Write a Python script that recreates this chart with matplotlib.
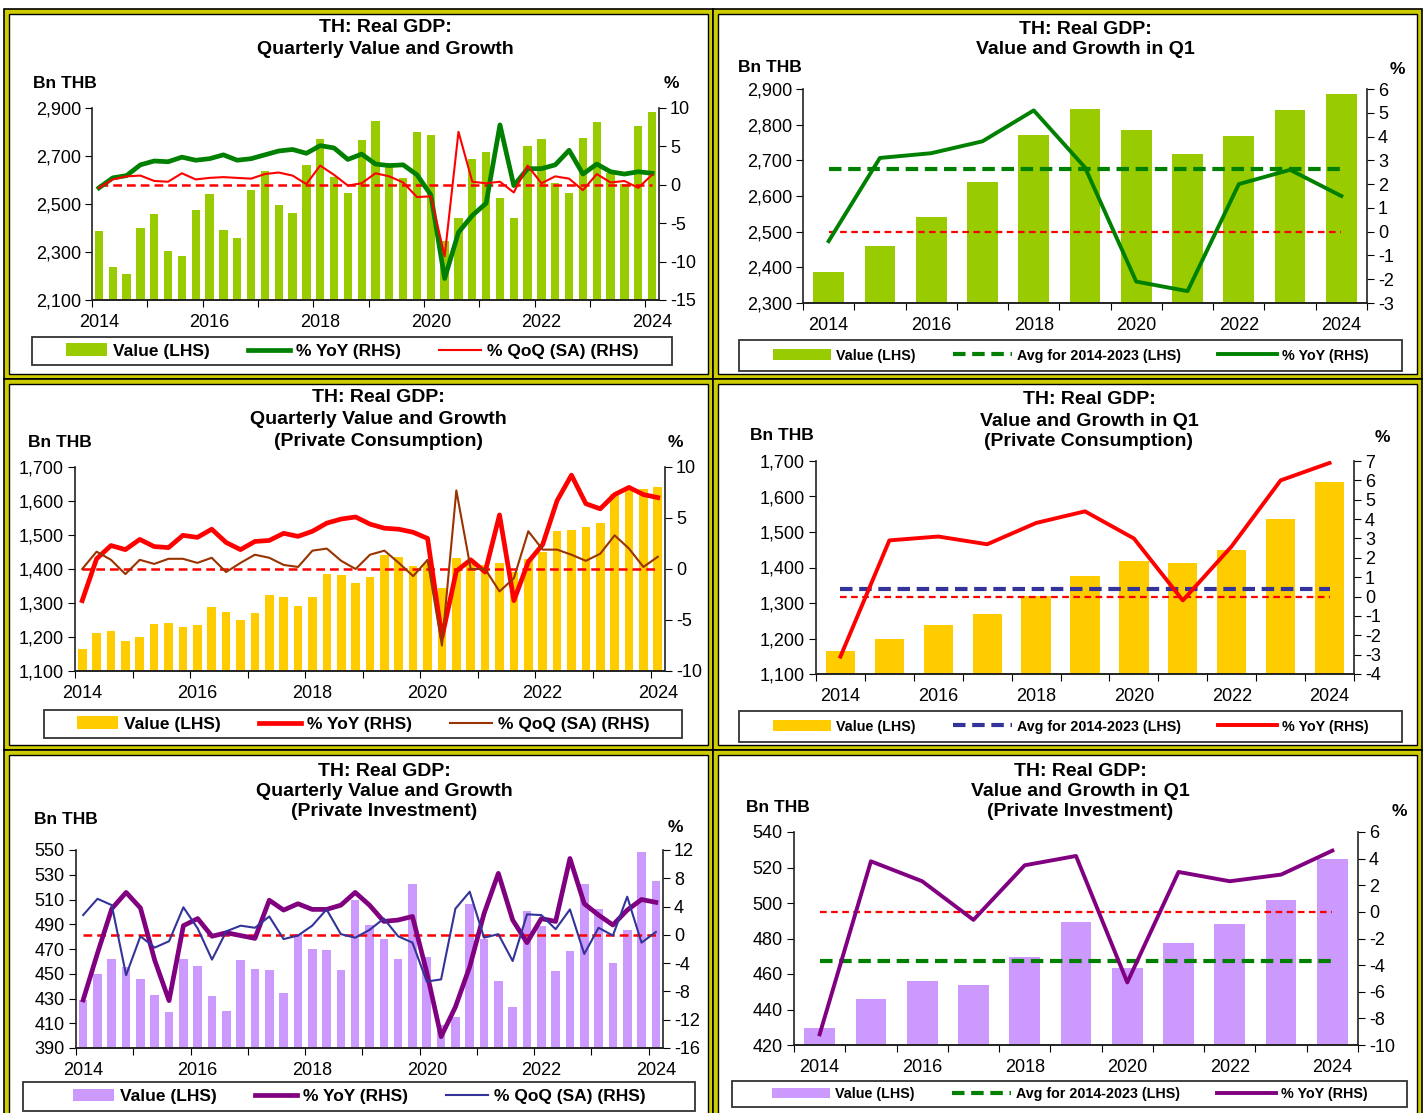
import numpy as np
import matplotlib
matplotlib.use("Agg")
import matplotlib.pyplot as plt
from matplotlib.patches import Rectangle, Patch
from matplotlib.lines import Line2D
from matplotlib.ticker import FuncFormatter

plt.rcParams['font.family'] = ['Liberation Sans', 'DejaVu Sans']

W, H = 1425, 1113
YELLOW = "#CCCC00"

# ---------------- data ----------------
quarter_labels = ["2014", "2016", "2018", "2020", "2022", "2024"]
q1_labels = ["2014", "2016", "2018", "2020", "2022", "2024"]

# Real GDP, quarterly (Bn THB), 2014Q1 .. 2024Q1
gdp_value = [2386, 2237, 2208, 2399, 2460, 2303, 2283, 2474,
             2541, 2392, 2357, 2558, 2639, 2494, 2464, 2664,
             2772, 2611, 2544, 2768, 2845, 2669, 2607, 2800,
             2786, 2344, 2442, 2688, 2717, 2525, 2440, 2742,
             2769, 2587, 2547, 2775, 2842, 2630, 2582, 2824,
             2885]
gdp_yoy = [-0.4, 0.9, 1.2, 2.6, 3.1, 3.0, 3.6, 3.2,
           3.4, 3.9, 3.2, 3.4, 3.9, 4.4, 4.6, 4.1,
           5.1, 4.8, 3.3, 4.0, 2.7, 2.5, 2.6, 1.3,
           -1.3, -12.2, -6.2, -4.0, -2.4, 7.8, -0.1, 2.1,
           2.1, 2.6, 4.5, 1.4, 2.7, 1.7, 1.4, 1.7,
           1.5]
gdp_qoq = [-0.4, 0.7, 1.1, 1.2, 0.5, 0.4, 1.5, 0.7,
           0.9, 1.0, 0.9, 0.8, 1.4, 1.6, 1.2, 0.1,
           2.5, 1.3, -0.1, 0.2, 1.5, 1.1, 0.3, -1.6,
           -1.5, -9.3, 6.9, 0.4, 0.2, 0.4, -1.0, 2.5,
           0.2, 1.1, 0.8, -0.7, 1.4, 0.3, 0.5, -0.4,
           1.3]

# Real GDP, Q1 of each year
gdp_q1_value = [2386, 2460, 2541, 2639, 2772, 2845, 2786, 2717, 2769, 2842, 2885]
gdp_q1_yoy = [-0.4, 3.1, 3.3, 3.8, 5.1, 2.7, -2.1, -2.5, 2.0, 2.6, 1.5]

# Private consumption, quarterly
pc_value = [1165, 1212, 1217, 1189, 1199, 1239, 1242, 1229,
            1236, 1289, 1274, 1251, 1270, 1325, 1318, 1292,
            1318, 1385, 1382, 1359, 1376, 1440, 1436, 1409,
            1417, 1344, 1432, 1414, 1412, 1417, 1390, 1429,
            1449, 1511, 1515, 1523, 1536, 1621, 1636, 1635,
            1642]
pc_yoy = [-3.1, 1.0, 2.3, 1.9, 2.9, 2.2, 2.1, 3.3,
          3.1, 3.9, 2.6, 1.9, 2.7, 2.8, 3.5, 3.2,
          3.7, 4.5, 4.9, 5.1, 4.4, 4.0, 3.9, 3.6,
          3.0, -6.7, -0.2, 0.9, -0.3, 5.3, -3.1, 0.7,
          2.4, 6.7, 9.2, 6.4, 5.9, 7.3, 8.0, 7.3,
          7.0]
pc_qoq = [0.0, 1.7, 0.9, -0.5, 0.9, 0.5, 1.0, 1.0,
          0.6, 1.1, -0.3, 0.6, 1.4, 1.1, 0.4, 0.2,
          1.8, 2.0, 0.8, 0.0, 1.4, 1.8, 0.6, -0.7,
          0.9, -7.5, 7.7, 0.0, 0.0, -2.2, -0.9, 3.7,
          1.9, 1.9, 1.4, 0.8, 1.5, 3.3, 2.0, 0.2,
          1.2]
pc_q1_value = [1166, 1200, 1237, 1270, 1319, 1376, 1417, 1414, 1450, 1536, 1642]
pc_q1_yoy = [-3.1, 2.9, 3.1, 2.7, 3.8, 4.4, 3.0, -0.2, 2.6, 6.0, 6.9]

# Private investment, quarterly
pi_value = [429.1, 450.2, 461.8, 455.3, 445.8, 432.6, 418.9, 461.8,
            456.1, 432.4, 419.7, 461.0, 453.7, 453.4, 434.2, 482.0,
            469.6, 469.0, 452.9, 509.5, 489.0, 477.7, 462.0, 522.7,
            463.4, 408.3, 414.8, 506.3, 477.7, 444.0, 423.2, 500.6,
            488.5, 452.1, 468.2, 522.5, 502.2, 458.3, 485.2, 548.4,
            524.9]
pi_yoy = [-9.2, -2.6, 3.7, 6.0, 3.8, -3.6, -9.3, 1.3,
          2.3, -0.2, 0.3, -0.1, -0.5, 4.9, 3.5, 4.4,
          3.6, 3.6, 4.2, 6.0, 4.2, 1.9, 2.1, 2.6,
          -5.3, -14.4, -10.2, -4.5, 3.0, 8.7, 2.1, -1.1,
          2.3, 1.9, 10.8, 4.4, 2.8, 1.4, 3.5, 5.0,
          4.6]
pi_qoq = [2.8, 5.1, 4.2, -5.7, -0.2, -1.8, -0.9, 3.9,
          0.9, -3.5, 0.5, 1.3, 1.0, 2.6, -0.6, -0.1,
          1.3, 3.6, 0.1, -0.4, 0.7, 2.3, -0.2, -1.1,
          -6.6, -6.3, 3.7, 6.1, -0.4, 0.1, -3.7, 2.9,
          2.8, 0.8, 3.6, -2.7, 1.0, -0.1, 5.4, -1.1,
          0.4]
pi_q1_value = [429.4, 446.0, 456.0, 453.7, 469.5, 489.2, 463.5, 477.6, 488.3, 501.6, 525.0]
pi_q1_yoy = [-9.2, 3.8, 2.3, -0.6, 3.5, 4.2, -5.3, 3.0, 2.3, 2.8, 4.6]

# ---------------- helpers ----------------
FS_TICK = 13
FS_TITLE = 14


def rect_px(x0, y0, x1, y1):
    return [x0 / W, 1 - y1 / H, (x1 - x0) / W, (y1 - y0) / H]


def box(x0, y0, x1, y1, fc, ec, lw):
    fig.add_artist(Rectangle((x0 / W, 1 - y1 / H), (x1 - x0) / W, (y1 - y0) / H,
                             transform=fig.transFigure, facecolor=fc,
                             edgecolor=ec, lw=lw, zorder=0))


def frame(x0, y0, x1, y1):
    box(x0, y0, x1, y1, YELLOW, "black", 1.2)
    d = 5
    box(x0 + d, y0 + d, x1 - d, y1 - d, "white", "black", 1.0)


def ftext(x, y, s, **kw):
    fig.text(x / W, 1 - y / H, s, va="center", fontweight="bold", **kw)


def style(ax, ax2):
    for a in (ax, ax2):
        a.spines["top"].set_visible(False)
        a.patch.set_visible(False)
    ax.spines["right"].set_visible(False)
    ax2.spines["left"].set_visible(False)
    for a in (ax, ax2):
        for s in ("left", "right", "bottom"):
            a.spines[s].set_color("#222222")
            a.spines[s].set_linewidth(1.2)
    ax.tick_params(axis="y", direction="out", length=5, labelsize=FS_TICK, pad=3)
    ax2.tick_params(axis="y", direction="out", length=5, labelsize=FS_TICK, pad=3)
    ax.tick_params(axis="x", which="major", direction="out", length=5, labelbottom=False)
    ax.tick_params(axis="x", which="minor", length=0, labelsize=FS_TICK, pad=10)
    ax.yaxis.set_major_formatter(FuncFormatter(lambda v, p: f"{v:,.0f}"))
    ax2.yaxis.set_major_formatter(FuncFormatter(lambda v, p: f"{v:.0f}"))


def legend(ax, handles, labels, lbox, fs, hlen, cspace):
    x0, y0, x1, y1 = lbox
    box(x0, y0, x1, y1, "white", "#333333", 1.3)
    ax.legend(handles, labels, loc="center",
              bbox_to_anchor=((x0 + x1) / 2 / W, 1 - (y0 + y1) / 2 / H),
              bbox_transform=fig.transFigure, ncol=3, frameon=False,
              borderaxespad=0, prop={"weight": "bold", "size": fs},
              handlelength=hlen, handletextpad=0.35, columnspacing=cspace)


def quarterly(plot, title, title_y, title_x, bn_xy, pct_xy, values, yoy, qoq,
              bar_c, yoy_c, qoq_c, lim, lticks, rlim, rticks, leg_box):
    ax = fig.add_axes(rect_px(*plot))
    ax2 = ax.twinx()
    n = len(values)
    x = np.arange(n)
    ax.bar(x, values, width=0.6, color=bar_c, edgecolor="none")
    ax.set_ylim(*lim)
    ax.set_yticks(lticks)
    ax.set_xlim(-0.5, n - 0.5)
    ax.set_xticks(np.arange(-0.5, n - 1, 4))
    ax.set_xticks(np.arange(0, n, 8), minor=True)
    ax.set_xticklabels(quarter_labels, minor=True)
    ax2.plot(x, np.zeros(n), color="#FF0000", lw=1.8, dashes=(3.5, 2))
    ax2.plot(x, yoy, color=yoy_c, lw=3.4, solid_joinstyle="round")
    ax2.plot(x, qoq, color=qoq_c, lw=1.5)
    ax2.set_ylim(*rlim)
    ax2.set_yticks(rticks)
    style(ax, ax2)
    for i, line in enumerate(title):
        ftext(title_x, title_y[i], line, ha="center", fontsize=FS_TITLE)
    ftext(bn_xy[0], bn_xy[1], "Bn THB", ha="left", fontsize=12.5)
    ftext(pct_xy[0], pct_xy[1], "%", ha="left", fontsize=12.5)
    handles = [Patch(facecolor=bar_c, edgecolor="none"),
               Line2D([], [], color=yoy_c, lw=3.4),
               Line2D([], [], color=qoq_c, lw=1.5)]
    legend(ax2, handles, ["Value (LHS)", "% YoY (RHS)", "% QoQ (SA) (RHS)"],
           leg_box, 12.5, 2.4, 2.2)


def q1chart(plot, title, title_y, title_x, bn_xy, pct_xy, values, yoy,
            bar_c, avg_c, yoy_c, lim, lticks, rlim, rticks, leg_box):
    ax = fig.add_axes(rect_px(*plot))
    ax2 = ax.twinx()
    n = len(values)
    x = np.arange(n)
    ax.bar(x, values, width=0.6, color=bar_c, edgecolor="none")
    avg = np.full(n, np.mean(values[:10]))
    ax.plot(x, avg, color=avg_c, lw=3.0, dashes=(3, 1.6))
    ax.set_ylim(*lim)
    ax.set_yticks(lticks)
    ax.set_xlim(-0.5, n - 0.5)
    ax.set_xticks(np.arange(-0.5, n, 1))
    ax.set_xticks(np.arange(0, n, 2), minor=True)
    ax.set_xticklabels(q1_labels, minor=True)
    ax2.plot(x, np.zeros(n), color="#FF0000", lw=1.6, dashes=(3, 2))
    ax2.plot(x, yoy, color=yoy_c, lw=2.8)
    ax2.set_ylim(*rlim)
    ax2.set_yticks(rticks)
    style(ax, ax2)
    for i, line in enumerate(title):
        ftext(title_x, title_y[i], line, ha="center", fontsize=FS_TITLE)
    ftext(bn_xy[0], bn_xy[1], "Bn THB", ha="left", fontsize=12.5)
    ftext(pct_xy[0], pct_xy[1], "%", ha="left", fontsize=12.5)
    handles = [Patch(facecolor=bar_c, edgecolor="none"),
               Line2D([], [], color=avg_c, lw=3.0, dashes=(3, 1.6)),
               Line2D([], [], color=yoy_c, lw=2.8)]
    legend(ax2, handles, ["Value (LHS)", "Avg for 2014-2023 (LHS)", "% YoY (RHS)"],
           leg_box, 10.3, 4.1, 2.6)


# ---------------- figure ----------------
fig = plt.figure(figsize=(W / 100, H / 100), dpi=100)
fig.patch.set_facecolor("white")

frame(4, 9, 713, 379)
frame(713, 9, 1422, 379)
frame(4, 379, 713, 750)
frame(713, 379, 1422, 750)
frame(4, 750, 713, 1120)
frame(713, 750, 1422, 1120)

GREEN_BAR = "#99CC00"
GOLD_BAR = "#FFCC00"
LILAC_BAR = "#CC99FF"

quarterly((92, 108, 659, 300),
          ["TH: Real GDP:", "Quarterly Value and Growth"], [28, 49], 385,
          (33, 83), (664, 84), gdp_value, gdp_yoy, gdp_qoq,
          GREEN_BAR, "#008000", "#FF0000",
          (2100, 2900), np.arange(2100, 2901, 200), (-15, 10), np.arange(-15, 11, 5),
          (32, 337, 672, 365))

q1chart((803, 89, 1367, 303),
        ["TH: Real GDP:", "Value and Growth in Q1"], [29, 50], 1085,
        (738, 67), (1390, 69), gdp_q1_value, gdp_q1_yoy,
        GREEN_BAR, "#008000", "#008000",
        (2300, 2900), np.arange(2300, 2901, 100), (-3, 6), np.arange(-3, 7, 1),
        (739, 340, 1402, 371))

quarterly((75, 467, 665, 671),
          ["TH: Real GDP:", "Quarterly Value and Growth", "(Private Consumption)"],
          [398, 420, 441], 378,
          (28, 443), (668, 443), pc_value, pc_yoy, pc_qoq,
          GOLD_BAR, "#FF0000", "#993300",
          (1100, 1700), np.arange(1100, 1701, 100), (-10, 10), np.arange(-10, 11, 5),
          (44, 710, 682, 738))

q1chart((816, 461, 1354, 674),
        ["TH: Real GDP:", "Value and Growth in Q1", "(Private Consumption)"],
        [400, 421, 442], 1089,
        (750, 436), (1375, 437), pc_q1_value, pc_q1_yoy,
        GOLD_BAR, "#333399", "#FF0000",
        (1100, 1700), np.arange(1100, 1701, 100), (-4, 7), np.arange(-4, 8, 1),
        (739, 711, 1402, 742))

quarterly((76, 850, 663, 1048),
          ["TH: Real GDP:", "Quarterly Value and Growth", "(Private Investment)"],
          [771, 791, 811], 384,
          (34, 819), (668, 827), pi_value, pi_yoy, pi_qoq,
          LILAC_BAR, "#800080", "#333399",
          (390, 550), np.arange(390, 551, 20), (-16, 12), np.arange(-16, 13, 4),
          (23, 1082, 695, 1111))

q1chart((794, 832, 1358, 1045),
        ["TH: Real GDP:", "Value and Growth in Q1", "(Private Investment)"],
        [771, 791, 811], 1080,
        (746, 808), (1392, 811), pi_q1_value, pi_q1_yoy,
        LILAC_BAR, "#008000", "#800080",
        (420, 540), np.arange(420, 541, 20), (-10, 6), np.arange(-10, 7, 2),
        (732, 1081, 1407, 1107))

fig.savefig("out.png", dpi=100, facecolor=fig.get_facecolor())
